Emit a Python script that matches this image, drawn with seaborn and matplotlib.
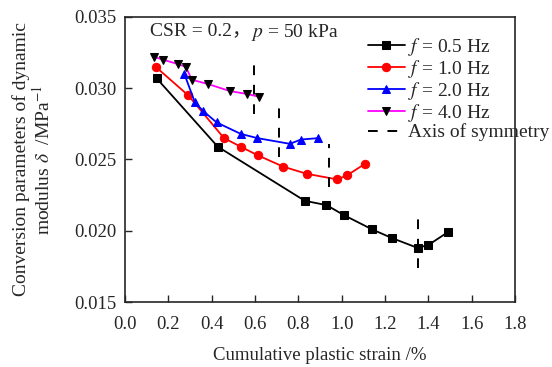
import seaborn as sns
import pandas as pd
import numpy as np
import matplotlib.pyplot as plt

# data
x_05 = [0.146, 0.428, 0.83, 0.93, 1.01, 1.14, 1.23, 1.35, 1.40, 1.49]
y_05 = [0.0307, 0.0259, 0.0221, 0.0218, 0.0211, 0.0201, 0.0195, 0.0188, 0.0190, 0.0199]

x_10 = [0.142, 0.292, 0.457, 0.534, 0.612, 0.730, 0.838, 0.980, 1.026, 1.108]
y_10 = [0.0315, 0.0295, 0.0265, 0.0259, 0.0253, 0.0245, 0.0240, 0.0236, 0.0239, 0.0247]

x_20 = [0.274, 0.323, 0.361, 0.423, 0.534, 0.611, 0.761, 0.812, 0.892]
y_20 = [0.0310, 0.0290, 0.0284, 0.0276, 0.0268, 0.0265, 0.0261, 0.0264, 0.0265]

x_40 = [0.135, 0.177, 0.243, 0.281, 0.308, 0.382, 0.485, 0.562, 0.620]
y_40 = [0.0322, 0.0320, 0.0317, 0.0315, 0.0306, 0.0303, 0.0298, 0.0296, 0.0294]

sym_x = [0.595, 0.712, 0.942, 1.351]
sym_ymin = [0.0282, 0.0252, 0.0231, 0.0174]
sym_ymax = [0.0322, 0.0287, 0.0261, 0.0212]

labels = [r"$f$ = 0.5 Hz", r"$f$ = 1.0 Hz", r"$f$ = 2.0 Hz", r"$f$ = 4.0 Hz"]

sns.set_style("ticks")
plt.rcParams['font.family'] = ['Liberation Serif', 'Noto Sans CJK SC', 'DejaVu Sans']
plt.rcParams['mathtext.fontset'] = 'stix'
plt.rcParams['xtick.direction'] = 'in'
plt.rcParams['ytick.direction'] = 'in'

fig = plt.figure(figsize=(5.52, 3.67), dpi=100)
ax = fig.add_axes([0.2264, 0.1771, 0.7066, 0.7766])

series = [(x_05, y_05, 'black', 's', 'black'),
          (x_10, y_10, 'red', 'o', 'red'),
          (x_20, y_20, 'blue', '^', 'blue'),
          (x_40, y_40, 'magenta', 'v', 'black')]

for (xs, ys, c, m, mc), lab in zip(series, labels):
    df = pd.DataFrame({'x': xs, 'y': ys})
    sns.lineplot(data=df, x='x', y='y', ax=ax, color=c, marker=m,
                 markerfacecolor=mc, markeredgecolor=mc, markersize=6,
                 linewidth=1.3, sort=False, label=lab)

ax.vlines(sym_x, sym_ymin, sym_ymax, colors='black', linewidth=1.4,
          linestyles=(0, (5, 5)), label='Axis of symmetry')

ax.set_xlim(0, 1.8)
ax.set_ylim(0.015, 0.035)
ax.set_xticks(np.arange(0, 1.81, 0.2))
ax.set_yticks(np.arange(0.015, 0.0351, 0.005))
ax.set_xticklabels([f"{v:.1f}" for v in np.arange(0, 1.81, 0.2)])
ax.set_yticklabels([f"{v:.3f}" for v in np.arange(0.015, 0.0351, 0.005)])
ax.tick_params(labelsize=13.5, length=5, width=1, top=False, right=False)
ax.tick_params(axis='x', pad=10)
ax.tick_params(axis='y', pad=6)
for s in ax.spines.values():
    s.set_linewidth(1.2)
    s.set_visible(True)

ax.set_xlabel("Cumulative plastic strain /%", fontsize=13.5, labelpad=10)
ax.set_ylabel("Conversion parameters of dynamic\nmodulus $\\delta$  /MPa$^{-1}$",
              fontsize=14, labelpad=15, linespacing=1.1)

t1 = ax.text(0.064, 0.982, "CSR = 0.2，", transform=ax.transAxes,
             fontsize=14, va='top', ha='left')
fig.canvas.draw()
bb = t1.get_window_extent().transformed(ax.transAxes.inverted())
ax.text(bb.x1, 0.982, "$p$ = 50 kPa", transform=ax.transAxes,
        fontsize=14, va='top', ha='left')

ax.legend(loc='upper left', bbox_to_anchor=(0.623, 0.935), frameon=False,
          fontsize=14, handlelength=1.9, handletextpad=0.15, labelspacing=0.0,
          borderaxespad=0, borderpad=0)

plt.savefig('out.png', dpi=100)
